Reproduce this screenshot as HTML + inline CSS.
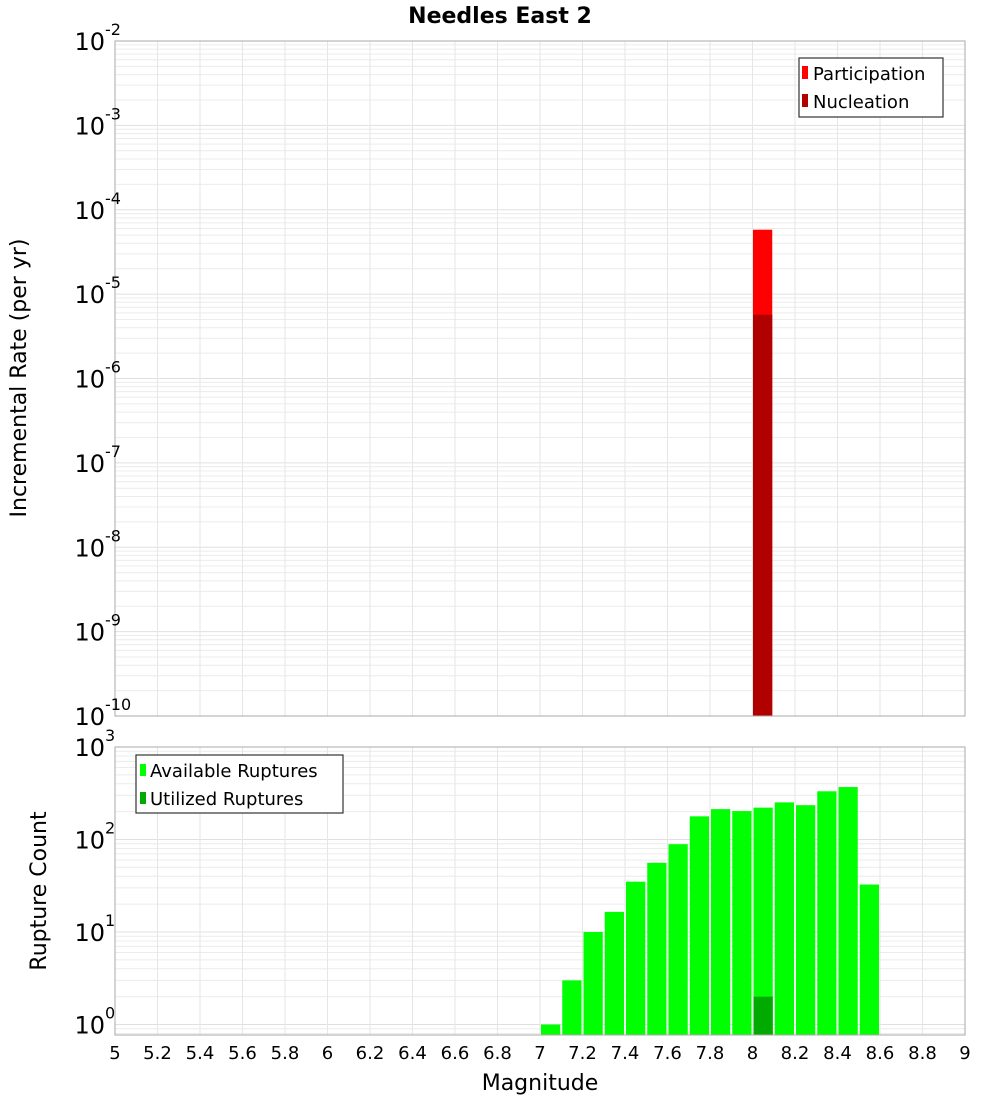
<!DOCTYPE html>
<html><head><meta charset="utf-8"><style>
body{margin:0;background:#fff;}
svg{font-family:"DejaVu Sans","Liberation Sans",sans-serif;}
</style></head><body>
<svg id="chart" width="1000" height="1100" xmlns="http://www.w3.org/2000/svg">
<text x="500" y="23" text-anchor="middle" font-size="22" font-weight="bold">Needles East 2</text>
<g id="gtop"></g><g id="gbot"></g>
<text transform="translate(26,378) rotate(-90)" text-anchor="middle" font-size="22">Incremental Rate (per yr)</text>
<text transform="translate(46,891) rotate(-90)" text-anchor="middle" font-size="22">Rupture Count</text>
<text x="540" y="1090" text-anchor="middle" font-size="22">Magnitude</text>
<g>
<rect x="799" y="58" width="144" height="59" fill="#fff" stroke="#333" stroke-width="1.2"/>
<rect x="802" y="66" width="6" height="13" fill="#ff0000"/>
<text x="813" y="80" font-size="18">Participation</text>
<rect x="802" y="94" width="6" height="13" fill="#b00000"/>
<text x="813" y="108" font-size="18">Nucleation</text>
</g>
<g>
<rect x="136" y="755" width="207" height="58" fill="#fff" stroke="#333" stroke-width="1.2"/>
<rect x="140" y="764" width="6" height="12" fill="#00ff00"/>
<text x="150" y="777" font-size="18">Available Ruptures</text>
<rect x="140" y="792" width="6" height="12" fill="#00aa00"/>
<text x="150" y="805" font-size="18">Utilized Ruptures</text>
</g>
</svg>
<script>
const magBins=[7.05,7.15,7.25,7.35,7.45,7.55,7.65,7.75,7.85,7.95,8.05,8.15,8.25,8.35,8.45,8.55];
const availableCounts=[1,3,10,16.5,35,56,89,178,213,203,221,252,235,332,369,32.6];
const utilizedMags=[8.05];
const utilizedCounts=[2];
const rateMags=[8.05];
const participationRates=[5.8e-5];
const nucleationRates=[5.7e-6];
const xTicks=[5,5.2,5.4,5.6,5.8,6,6.2,6.4,6.6,6.8,7,7.2,7.4,7.6,7.8,8,8.2,8.4,8.6,8.8,9];
const topDecades=[-2,-3,-4,-5,-6,-7,-8,-9,-10];
const botDecades=[3,2,1,0];

const NS='http://www.w3.org/2000/svg';
const X0=115,X1=965;
const xs=m=>X0+(m-5)/(4)*(X1-X0);
const topY=v=>41+(-2-Math.log10(v))*84.375;
const botY=v=>747+(3-Math.log10(v))*92.5;
function mk(p,tag,attrs){const e=document.createElementNS(NS,tag);for(const k in attrs)e.setAttribute(k,attrs[k]);p.appendChild(e);return e;}

function panel(g,yT,yB,yfn,decMin,decMax,name){
  for(let d=decMin;d<decMax;d++){for(let k=1;k<10;k++){const y=yfn(k*Math.pow(10,d));if(y<yT||y>yB)continue;
    const l=mk(g,'line',{x1:X0,x2:X1,y1:y,y2:y,stroke:k==1?'#e0e0e0':'#ececec','stroke-width':1});
    
    }}
  for(let i=1;i<xTicks.length-1;i++){const x=xs(xTicks[i]);
    const l=mk(g,'line',{x1:x,x2:x,y1:yT,y2:yB,stroke:'#e6e6e6','stroke-width':1});
    
    }
}
const gTop=document.getElementById('gtop'),gBot=document.getElementById('gbot');
panel(gTop,41,716,topY,-10,-2,'top');
panel(gBot,747,1035,botY,-1,3,'bottom');

rateMags.forEach((m,i)=>{
  const x=xs(m-0.05)+0.5,w=xs(m+0.05)-xs(m-0.05)-2;
  let r=mk(gTop,'rect',{x:x,y:topY(participationRates[i]),width:w,height:716-topY(participationRates[i]),fill:'#ff0000'});
  
  
  r=mk(gTop,'rect',{x:x,y:topY(nucleationRates[i]),width:w,height:716-topY(nucleationRates[i]),fill:'#b00000'});
  
  
});
magBins.forEach((m,i)=>{
  const x=xs(m-0.05)+1,w=xs(m+0.05)-xs(m-0.05)-2;
  const r=mk(gBot,'rect',{x:x,y:botY(availableCounts[i]),width:w,height:1035-botY(availableCounts[i]),fill:'#00ff00'});
  
  
});
utilizedMags.forEach((m,i)=>{
  const x=xs(m-0.05)+1,w=xs(m+0.05)-xs(m-0.05)-2;
  const r=mk(gBot,'rect',{x:x,y:botY(utilizedCounts[i]),width:w,height:1035-botY(utilizedCounts[i]),fill:'#00aa00'});
  
  
});
[[41,716,gTop],[747,1035,gBot]].forEach(([a,b,g])=>{
  const f=mk(g,'rect',{x:X0,y:a,width:X1-X0,height:b-a,fill:'none',stroke:'#aaa','stroke-width':1});
  
  
});
function ylab(g,d,y){
  const t=mk(g,'text',{x:105,y:y+9,'text-anchor':'end','font-size':24});
  t.textContent='10';
  
  
  const s=mk(g,'text',{x:105,y:y-6,'font-size':16});
  s.textContent=String(d);
  
  
}
topDecades.forEach(d=>ylab(gTop,d,topY(Math.pow(10,d))));
botDecades.forEach(d=>ylab(gBot,d,botY(Math.pow(10,d))));
xTicks.forEach(v=>{
  const t=mk(gBot,'text',{x:xs(v),y:1059,'text-anchor':'middle','font-size':18});
  t.textContent=String(v);
  
  
});
</script>
</body></html>
